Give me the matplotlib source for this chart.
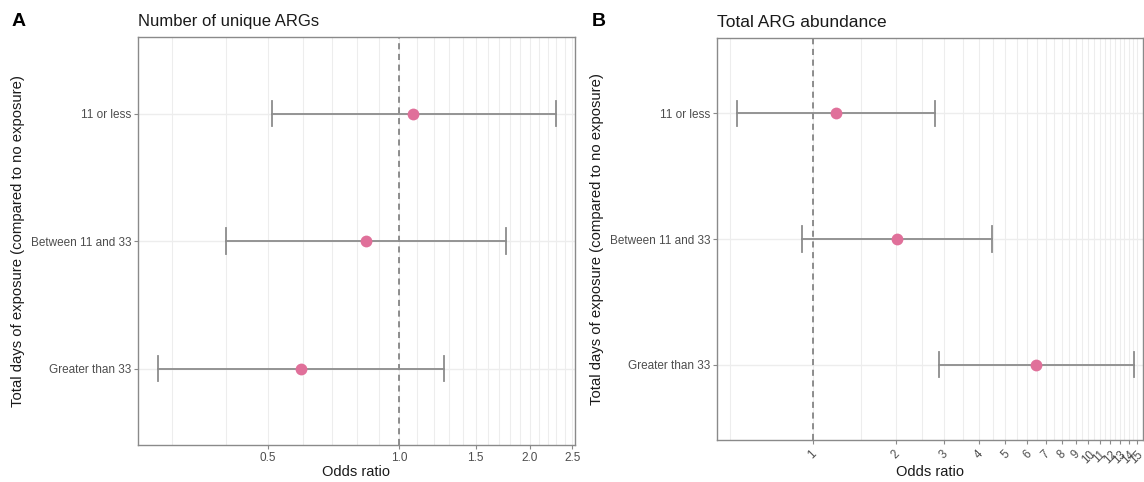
import numpy as np
import matplotlib.pyplot as plt
from matplotlib.ticker import FixedLocator, NullLocator, FixedFormatter

plt.rcParams['font.family'] = ['Liberation Sans', 'DejaVu Sans']

# exposure groups, bottom to top
groups = ['Greater than 33', 'Between 11 and 33', '11 or less']

# odds ratios with 95% CI
unique_or = [0.594, 0.838, 1.079]
unique_lo = [0.279, 0.399, 0.511]
unique_hi = [1.265, 1.765, 2.29]

abund_or = [6.46, 2.02, 1.217]
abund_lo = [2.87, 0.913, 0.533]
abund_hi = [14.64, 4.47, 2.79]

W, H = 1144, 482
fig = plt.figure(figsize=(W / 100, H / 100), dpi=100)


def px_axes(x0, y0, x1, y1):
    return fig.add_axes([x0 / W, 1 - y1 / H, (x1 - x0) / W, (y1 - y0) / H])


point_col = '#E0709A'
bar_col = '#8C8C8C'
grid_col = '#EDEDED'
border_col = '#8A8A8A'
text_col = '#4D4D4D'


def forest(ax, est, lo, hi, xlim, grid_vals, ticks, ticklabels, box, ylab_x):
    x0, y0, x1, y1 = box
    ax.set_xscale('log')
    ax.set_xlim(*xlim)
    ax.set_ylim(0.4, 3.6)
    ypos = np.arange(1, len(groups) + 1)
    for g in grid_vals:
        ax.axvline(g, color=grid_col, lw=0.8, zorder=0)
    for y in ypos:
        ax.axhline(y, color=grid_col, lw=1.0, zorder=0)
    ax.axvline(1, color='#707070', lw=1.1, ls=(0, (4, 3)), zorder=1)
    for y, e, l, h in zip(ypos, est, lo, hi):
        ax.plot([l, h], [y, y], color=bar_col, lw=1.3, zorder=2)
        ax.plot([l, l], [y - 0.1, y + 0.1], color=bar_col, lw=1.3, zorder=2)
        ax.plot([h, h], [y - 0.1, y + 0.1], color=bar_col, lw=1.3, zorder=2)
        ax.plot(e, y, 'o', ms=8.5, color=point_col, mec='none', zorder=3)
    ax.xaxis.set_major_locator(FixedLocator(ticks))
    ax.xaxis.set_major_formatter(FixedFormatter(ticklabels))
    ax.xaxis.set_minor_locator(NullLocator())
    ax.set_yticks(ypos)
    ax.set_yticklabels(groups)
    ax.tick_params(colors=border_col, labelcolor=text_col, labelsize=8.5,
                   length=3, width=0.8, pad=2)
    for s in ax.spines.values():
        s.set_color(border_col)
        s.set_linewidth(1.0)
    ax.set_xlabel('Odds ratio', fontsize=10.5, color='#1a1a1a', va='center')
    ax.set_ylabel('Total days of exposure (compared to no exposure)',
                  fontsize=10.7, color='#1a1a1a', va='center')
    # axis titles at fixed pixel offsets from the panel
    ax.xaxis.set_label_coords(0.5, (y1 - 472) / (y1 - y0))
    ax.yaxis.set_label_coords((ylab_x - x0) / (x1 - x0), 0.5)


# panel A
boxA = (138, 37, 575, 445)
axA = px_axes(*boxA)
gridA = np.round(np.arange(0.3, 2.51, 0.1), 1)
ticksA = [0.5, 1.0, 1.5, 2.0, 2.5]
forest(axA, unique_or, unique_lo, unique_hi, (0.251, 2.537), gridA,
       ticksA, [f'{t:.1f}' for t in ticksA], boxA, 18)
axA.set_title('Number of unique ARGs', loc='left', fontsize=12, pad=8,
              color='#1a1a1a')

# panel B
boxB = (717, 38, 1143, 440)
axB = px_axes(*boxB)
gridB = np.arange(0.5, 15.01, 0.5)
ticksB = list(range(1, 16))
forest(axB, abund_or, abund_lo, abund_hi, (0.45, 15.8), gridB,
       ticksB, [str(t) for t in ticksB], boxB, 597)
axB.tick_params(axis='x', pad=3, labelsize=8.3)
plt.setp(axB.get_xticklabels(), rotation=45, ha='center', va='top')
axB.set_title('Total ARG abundance', loc='left', fontsize=12.5, pad=8,
              color='#1a1a1a')

fig.text(12 / W, 1 - 21 / H, 'A', fontsize=14, fontweight='bold', va='center')
fig.text(592 / W, 1 - 21 / H, 'B', fontsize=14, fontweight='bold', va='center')

fig.savefig('out.png', dpi=100, facecolor='white')
